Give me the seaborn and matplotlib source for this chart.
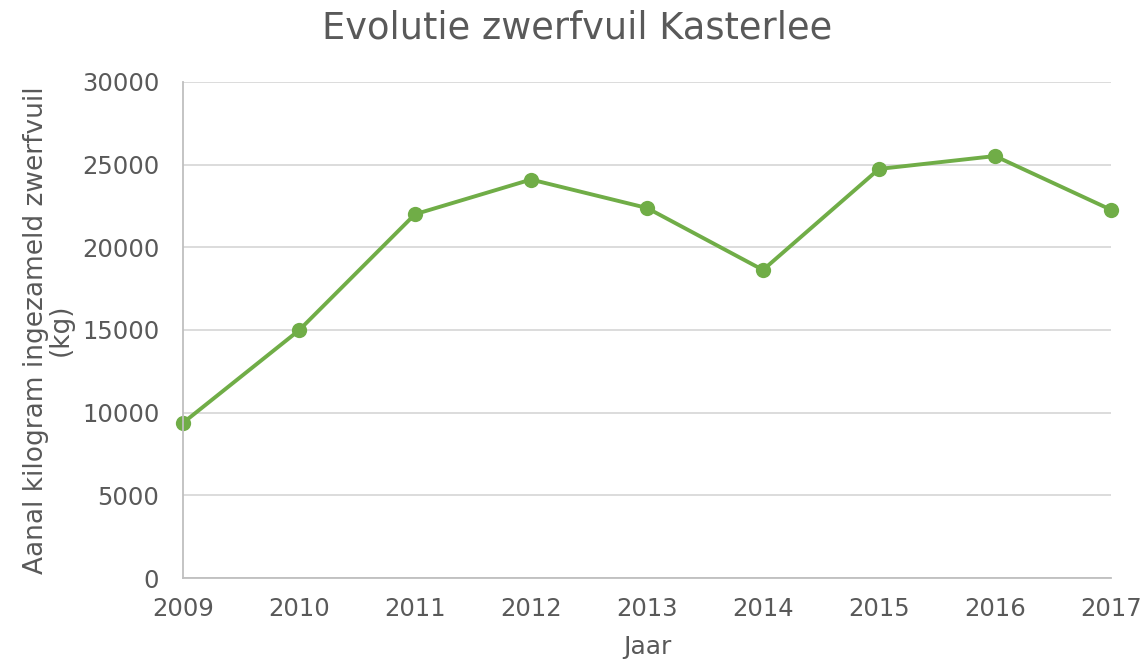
import pandas as pd
import matplotlib
matplotlib.use("Agg")
import matplotlib.pyplot as plt
import seaborn as sns

# Gegevens
jaren = [2009, 2010, 2011, 2012, 2013, 2014, 2015, 2016, 2017]
kg = [9380, 14980, 22000, 24100, 22380, 18630, 24740, 25520, 22270]

df = pd.DataFrame({"Jaar": jaren, "kg": kg})

sns.set_style("white")
plt.rcParams['font.family'] = ['DejaVu Sans']

tekst = "#595959"
groen = "#70ad47"

fig = plt.figure(figsize=(11.45, 6.6), dpi=100)
ax = fig.add_axes([0.1598, 0.1242, 0.8105, 0.7516])

sns.lineplot(data=df, x="Jaar", y="kg", ax=ax, color=groen, linewidth=2.8,
             marker="o", markersize=11, markeredgewidth=0)
for ln in ax.lines:
    ln.set_clip_on(False)

ax.set_xlim(2009, 2017)
ax.set_ylim(0, 30000)
ax.set_xticks(jaren)
ax.set_yticks(range(0, 30001, 5000))
ax.yaxis.grid(True, color="#d9d9d9", linewidth=1.3)
ax.set_axisbelow(True)

for s in ["top", "right"]:
    ax.spines[s].set_visible(False)
for s in ["left", "bottom"]:
    ax.spines[s].set_color("#bfbfbf")
    ax.spines[s].set_linewidth(1.3)

ax.tick_params(axis="both", length=0, labelsize=17.5, labelcolor=tekst)
ax.tick_params(axis="x", pad=14)
ax.tick_params(axis="y", pad=17)

ax.set_xlabel("Jaar", fontsize=18, color=tekst, labelpad=10)
ax.set_ylabel("Aanal kilogram ingezameld zwerfvuil\n(kg)", fontsize=19,
              color=tekst, labelpad=6, linespacing=0.95)
fig.suptitle("Evolutie zwerfvuil Kasterlee", fontsize=26.5, color=tekst,
             x=0.504, y=0.985)

fig.savefig("out.png", dpi=100)
